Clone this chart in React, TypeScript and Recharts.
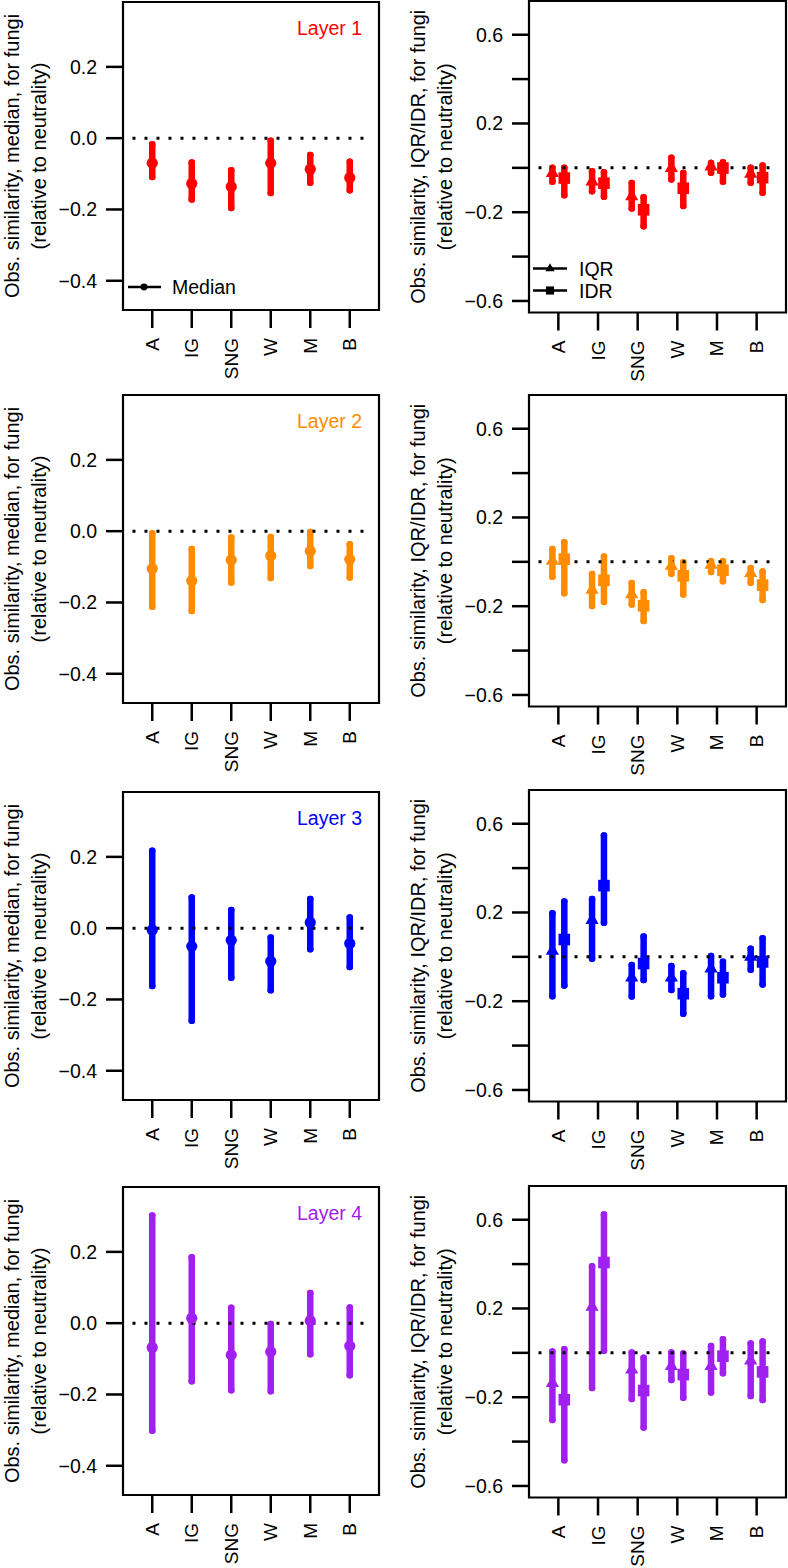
import React from "react";
import {
  ComposedChart,
  Scatter,
  ErrorBar,
  XAxis,
  YAxis,
  ReferenceLine,
  ReferenceArea,
} from "recharts";

const categories = ["A", "IG", "SNG", "W", "M", "B"];
const layerNames = ["Layer 1", "Layer 2", "Layer 3", "Layer 4"];
const layerColors = ["#FF0000", "#FF8C00", "#0000FF", "#A020F0"];

const medianTicks = [-0.4, -0.2, 0, 0.2];
const medianTickLabels = ["\u22120.4", "\u22120.2", "0.0", "0.2"];
const spreadTicks = [-0.6, -0.4, -0.2, 0, 0.2, 0.4, 0.6];
const spreadTickLabels = ["\u22120.6", "", "\u22120.2", "", "0.2", "", "0.6"];

const medianTitle = "Obs. similarity, median, for fungi";
const spreadTitle = "Obs. similarity, IQR/IDR, for fungi";
const subTitle = "(relative to neutrality)";

// ---- Layer 1 ----
const median1 = [-0.07, -0.127, -0.136, -0.07, -0.087, -0.111];
const median1Low = [-0.109, -0.172, -0.196, -0.154, -0.125, -0.146];
const median1High = [-0.017, -0.068, -0.09, -0.007, -0.047, -0.066];
const iqr1 = [-0.024, -0.062, -0.129, -0.001, 0.006, -0.027];
const iqr1Low = [-0.063, -0.105, -0.183, -0.052, -0.022, -0.067];
const iqr1High = [0.0, -0.015, -0.068, 0.045, 0.022, 0.0];
const idr1 = [-0.046, -0.069, -0.189, -0.092, -0.001, -0.044];
const idr1Low = [-0.123, -0.13, -0.263, -0.172, -0.063, -0.112];
const idr1High = [0.0, -0.02, -0.133, -0.023, 0.025, 0.01];

// ---- Layer 2 ----
const median2 = [-0.105, -0.139, -0.081, -0.069, -0.056, -0.079];
const median2Low = [-0.212, -0.224, -0.144, -0.131, -0.098, -0.13];
const median2High = [-0.006, -0.05, -0.018, -0.016, -0.002, -0.037];
const iqr2 = [0.005, -0.126, -0.146, -0.018, -0.014, -0.051];
const iqr2Low = [-0.067, -0.199, -0.192, -0.054, -0.046, -0.094];
const iqr2High = [0.058, -0.055, -0.095, 0.016, 0.003, -0.028];
const idr2 = [0.012, -0.083, -0.198, -0.063, -0.038, -0.105];
const idr2Low = [-0.142, -0.181, -0.267, -0.147, -0.087, -0.172];
const idr2High = [0.088, 0.024, -0.137, -0.002, 0.003, -0.043];

// ---- Layer 3 ----
const median3 = [-0.005, -0.051, -0.034, -0.093, 0.016, -0.043];
const median3Low = [-0.162, -0.26, -0.139, -0.174, -0.059, -0.109];
const median3High = [0.217, 0.086, 0.051, -0.026, 0.082, 0.03];
const iqr3 = [0.027, 0.166, -0.094, -0.094, -0.053, 0.0];
const iqr3Low = [-0.178, -0.009, -0.179, -0.149, -0.178, -0.058];
const iqr3High = [0.197, 0.261, -0.037, -0.041, 0.004, 0.036];
const idr3 = [0.078, 0.321, -0.03, -0.166, -0.094, -0.023];
const idr3Low = [-0.129, 0.154, -0.104, -0.257, -0.17, -0.125];
const idr3High = [0.25, 0.547, 0.092, -0.074, -0.022, 0.084];

// ---- Layer 4 ----
const median4 = [-0.068, 0.014, -0.089, -0.08, 0.007, -0.064];
const median4Low = [-0.302, -0.163, -0.188, -0.191, -0.087, -0.146];
const median4High = [0.302, 0.185, 0.043, -0.002, 0.085, 0.044];
const iqr4 = [-0.136, 0.207, -0.075, -0.06, -0.06, -0.035];
const iqr4Low = [-0.303, -0.159, -0.208, -0.122, -0.179, -0.194];
const iqr4High = [0.006, 0.39, 0.001, 0.001, 0.031, 0.042];
const idr4 = [-0.211, 0.407, -0.17, -0.098, -0.015, -0.086];
const idr4Low = [-0.484, 0.009, -0.337, -0.202, -0.092, -0.212];
const idr4High = [0.016, 0.624, -0.022, -0.003, 0.061, 0.051];

const medians = [
  [median1, median1Low, median1High],
  [median2, median2Low, median2High],
  [median3, median3Low, median3High],
  [median4, median4Low, median4High],
];
const iqrs = [
  [iqr1, iqr1Low, iqr1High],
  [iqr2, iqr2Low, iqr2High],
  [iqr3, iqr3Low, iqr3High],
  [iqr4, iqr4Low, iqr4High],
];
const idrs = [
  [idr1, idr1Low, idr1High],
  [idr2, idr2Low, idr2High],
  [idr3, idr3Low, idr3High],
  [idr4, idr4Low, idr4High],
];

const FONT = "'Liberation Sans', Arial, Helvetica, sans-serif";
const X_DOMAIN: [number, number] = [0.26, 6.74];
const MEDIAN_DOMAIN: [number, number] = [-0.482, 0.382];
const SPREAD_DOMAIN: [number, number] = [-0.652, 0.752];

const leftTops = [2, 395.3, 791.7, 1187.3];
const rightTops = [1, 394.7, 790, 1186.3];

function toPoints(set: number[][], offset: number) {
  const [mid, lo, hi] = set;
  return categories.map((c, i) => ({
    x: i + 1 + offset,
    y: mid[i],
    err: [mid[i] - lo[i], hi[i] - mid[i]],
    cat: c,
  }));
}

const circleShape = (color: string) => (p: any) =>
  <circle cx={p.cx} cy={p.cy} r={5.6} fill={color} />;
const triangleShape = (color: string, s = 1) => (p: any) => {
  const cx = p.cx, cy = p.cy;
  const hw = 6.6 * s, up = 7.6 * s, dn = 3.9 * s;
  return (
    <polygon
      points={`${cx - hw},${cy + dn} ${cx + hw},${cy + dn} ${cx},${cy - up}`}
      fill={color}
    />
  );
};
const squareShape = (color: string, s = 1) => (p: any) => {
  const h = 5.8 * s;
  return <rect x={p.cx - h} y={p.cy - h} width={2 * h} height={2 * h} fill={color} />;
};

function Decor(props: any) {
  const { viewBox, kind, layer } = props;
  const { x, y, width, height } = viewBox;
  const cy = y + height / 2;
  const bottom = y + height;
  const title = kind === "median" ? medianTitle : spreadTitle;
  return (
    <g fontFamily={FONT}>
      <text
        transform={`translate(${x - 111.5},${cy}) rotate(-90)`}
        textAnchor="middle"
        dominantBaseline="central"
        fontSize={20}
        fill="#000"
      >
        {title}
      </text>
      <text
        transform={`translate(${x - 84},${cy}) rotate(-90)`}
        textAnchor="middle"
        dominantBaseline="central"
        fontSize={20}
        fill="#000"
      >
        {subTitle}
      </text>
      {kind === "median" && (
        <text
          x={x + width - 17}
          y={y + 26}
          textAnchor="end"
          dominantBaseline="central"
          fontSize={19.5}
          fill={layerColors[layer]}
        >
          {layerNames[layer]}
        </text>
      )}
      {kind === "median" && layer === 0 && (
        <g>
          <line x1={x + 5} x2={x + 38} y1={bottom - 23} y2={bottom - 23} stroke="#000" strokeWidth={2.5} />
          <circle cx={x + 21} cy={bottom - 23} r={3.4} fill="#000" />
          <text x={x + 49} y={bottom - 23} dominantBaseline="central" fontSize={19.5} fill="#000">
            Median
          </text>
        </g>
      )}
      {kind === "spread" && layer === 0 && (
        <g>
          <line x1={x + 4} x2={x + 38} y1={bottom - 44} y2={bottom - 44} stroke="#000" strokeWidth={2.5} />
          {triangleShape("#000", 0.7)({ cx: x + 21, cy: bottom - 44 })}
          <text x={x + 50} y={bottom - 44} dominantBaseline="central" fontSize={19.5} fill="#000">
            IQR
          </text>
          <line x1={x + 4} x2={x + 38} y1={bottom - 22} y2={bottom - 22} stroke="#000" strokeWidth={2.5} />
          {squareShape("#000", 0.7)({ cx: x + 21, cy: bottom - 22 })}
          <text x={x + 50} y={bottom - 22} dominantBaseline="central" fontSize={19.5} fill="#000">
            IDR
          </text>
        </g>
      )}
    </g>
  );
}

const XTick = (p: any) => {
  const v = p.payload.value;
  return (
    <text
      transform={`translate(${p.x},${p.y}) rotate(-90)`}
      textAnchor="end"
      dominantBaseline="central"
      fontSize={19}
      fontFamily={FONT}
      fill="#000"
    >
      {categories[Math.round(v) - 1]}
    </text>
  );
};

const makeYTick = (ticks: number[], labels: string[]) => (p: any) => {
  const v = p.payload.value;
  const idx = ticks.findIndex((t) => Math.abs(t - v) < 1e-6);
  const label = idx >= 0 ? labels[idx] : "";
  return (
    <text
      x={p.x}
      y={p.y}
      textAnchor="end"
      dominantBaseline="central"
      fontSize={19.5}
      fontFamily={FONT}
      fill="#000"
    >
      {label}
    </text>
  );
};

function Panel({ kind, layer }: { kind: "median" | "spread"; layer: number }) {
  const isMed = kind === "median";
  const color = layerColors[layer];
  const boxH = isMed ? 308 : 311.5;
  const yAxisW = isMed ? 123 : 135;
  const mRight = isMed ? 15 : 2;
  const mTop = 2;
  const xAxisH = 78;
  const width = 394;
  const height = mTop + boxH + xAxisH;
  const yDomain = isMed ? MEDIAN_DOMAIN : SPREAD_DOMAIN;
  const ticks = isMed ? medianTicks : spreadTicks;
  const labels = isMed ? medianTickLabels : spreadTickLabels;
  const top = (isMed ? leftTops[layer] : rightTops[layer]) - mTop;
  const left = isMed ? 0 : 394;

  return (
    <div style={{ position: "absolute", left, top, width, height }}>
      <ComposedChart
        width={width}
        height={height}
        margin={{ top: mTop, right: mRight, bottom: 0, left: 0 }}
      >
        <XAxis
          type="number"
          dataKey="x"
          domain={X_DOMAIN}
          allowDataOverflow
          ticks={[1, 2, 3, 4, 5, 6]}
          interval={0}
          height={xAxisH}
          axisLine={false}
          tickLine={{ stroke: "#000", strokeWidth: 2.5 }}
          tickSize={18}
          tickMargin={10}
          tick={XTick}
        />
        <YAxis
          type="number"
          dataKey="y"
          domain={yDomain}
          allowDataOverflow
          ticks={ticks}
          interval={0}
          width={yAxisW}
          axisLine={false}
          tickLine={{ stroke: "#000", strokeWidth: 2.5 }}
          tickSize={17}
          tickMargin={9}
          tick={makeYTick(ticks, labels)}
        />
        <ReferenceArea
          x1={X_DOMAIN[0]}
          x2={X_DOMAIN[1]}
          y1={yDomain[0]}
          y2={yDomain[1]}
          fill="none"
          fillOpacity={0}
          stroke="#000"
          strokeWidth={2.2}
          strokeOpacity={1}
          ifOverflow="visible"
          label={(lp: any) => <Decor viewBox={lp.viewBox} kind={kind} layer={layer} />}
        />
        {isMed ? (
          <Scatter
            data={toPoints(medians[layer], 0)}
            dataKey="y"
            shape={circleShape(color)}
            isAnimationActive={false}
          >
            <ErrorBar
              dataKey="err"
              direction="y"
              width={0}
              stroke={color}
              strokeWidth={6.5}
              strokeLinecap="round"
              isAnimationActive={false}
            />
          </Scatter>
        ) : null}
        {!isMed ? (
          <Scatter
            data={toPoints(iqrs[layer], -0.15)}
            dataKey="y"
            shape={triangleShape(color)}
            isAnimationActive={false}
          >
            <ErrorBar
              dataKey="err"
              direction="y"
              width={0}
              stroke={color}
              strokeWidth={6.5}
              strokeLinecap="round"
              isAnimationActive={false}
            />
          </Scatter>
        ) : null}
        {!isMed ? (
          <Scatter
            data={toPoints(idrs[layer], 0.15)}
            dataKey="y"
            shape={squareShape(color)}
            isAnimationActive={false}
          >
            <ErrorBar
              dataKey="err"
              direction="y"
              width={0}
              stroke={color}
              strokeWidth={6.5}
              strokeLinecap="round"
              isAnimationActive={false}
            />
          </Scatter>
        ) : null}
        <ReferenceLine
          segment={[
            { x: 0.5, y: 0 },
            { x: 6.5, y: 0 },
          ]}
          stroke="#000"
          strokeWidth={3}
          strokeDasharray="3 9"
          ifOverflow="visible"
        />
      </ComposedChart>
    </div>
  );
}

export default function App() {
  return (
    <div
      style={{
        position: "absolute",
        left: 0,
        top: 0,
        width: 788,
        height: 1568,
        background: "#fff",
        overflow: "hidden",
      }}
    >
      {[0, 1, 2, 3].map((l) => (
        <React.Fragment key={l}>
          <Panel kind="median" layer={l} />
          <Panel kind="spread" layer={l} />
        </React.Fragment>
      ))}
    </div>
  );
}
